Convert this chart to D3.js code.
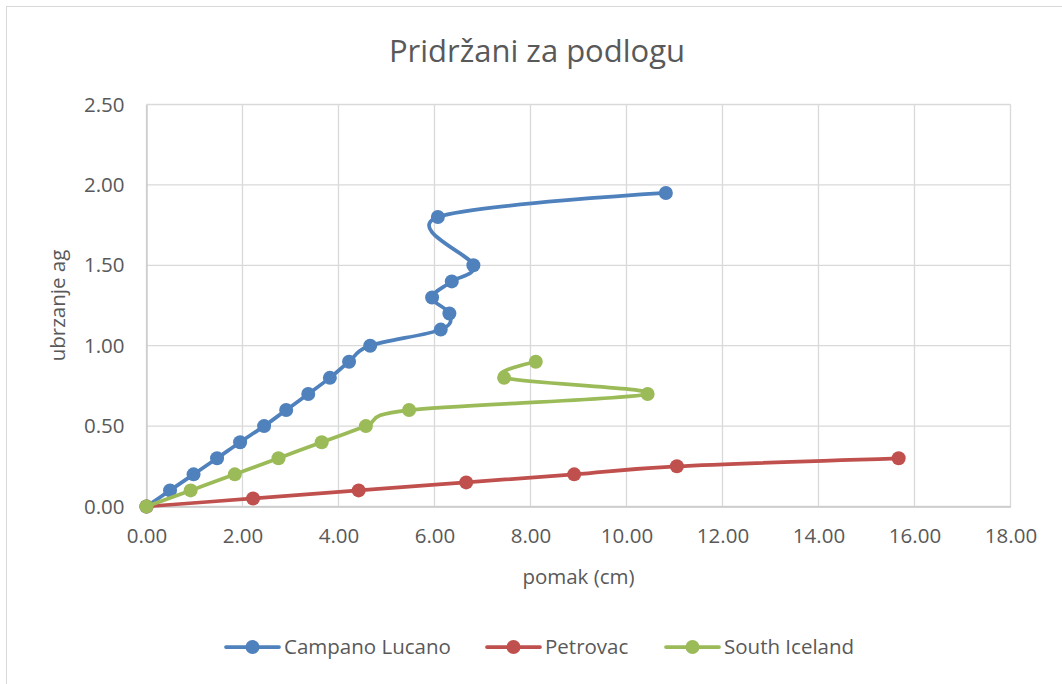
<!DOCTYPE html>
<html>
<head>
<meta charset="utf-8">
<script src="https://cdn.jsdelivr.net/npm/d3@7"></script>
<style>
  html, body { margin: 0; padding: 0; background: #fff; }
  svg { display: block; font-family: "Open Sans", "Noto Sans", sans-serif; }
</style>
</head>
<body>
<svg id="chart" width="1062" height="684"></svg>
<script>
// Displacement (cm) against ground acceleration (ag) for three records
const campanoX = [0, 0.49, 0.98, 1.47, 1.95, 2.45, 2.91, 3.37, 3.82, 4.22, 4.66, 6.13, 6.31, 5.95, 6.36, 6.81, 6.07, 10.82];
const campanoY = [0, 0.1, 0.2, 0.3, 0.4, 0.5, 0.6, 0.7, 0.8, 0.9, 1.0, 1.1, 1.2, 1.3, 1.4, 1.5, 1.8, 1.95];
const petrovacX = [0, 2.22, 4.42, 6.66, 8.91, 11.05, 15.67];
const petrovacY = [0, 0.05, 0.1, 0.15, 0.2, 0.25, 0.3];
const icelandX = [0, 0.92, 1.84, 2.75, 3.65, 4.57, 5.47, 10.44, 7.45, 8.11];
const icelandY = [0, 0.1, 0.2, 0.3, 0.4, 0.5, 0.6, 0.7, 0.8, 0.9];

const seriesNames = ["Campano Lucano", "Petrovac", "South Iceland"];
const seriesColors = ["#4F81BD", "#C0504D", "#9BBB59"];

const xTicks = [0, 2, 4, 6, 8, 10, 12, 14, 16, 18];
const yTicks = [0, 0.5, 1.0, 1.5, 2.0, 2.5];

const titleText = "Pridržani za podlogu";
const xTitle = "pomak (cm)";
const yTitle = "ubrzanje ag";

const series = [
  { name: seriesNames[0], color: seriesColors[0], pts: campanoX.map((x, i) => [x, campanoY[i]]) },
  { name: seriesNames[1], color: seriesColors[1], pts: petrovacX.map((x, i) => [x, petrovacY[i]]) },
  { name: seriesNames[2], color: seriesColors[2], pts: icelandX.map((x, i) => [x, icelandY[i]]) }
];

const svg = d3.select("#chart");
const textColor = "#595959";
const plot = { left: 146.5, right: 1010.5, top: 104.5, bottom: 506.5 };

const x = d3.scaleLinear().domain([0, 18]).range([plot.left, plot.right]);
const y = d3.scaleLinear().domain([0, 2.5]).range([plot.bottom, plot.top]);

// chart frame
svg.append("rect")
  .attr("x", 6.5).attr("y", 6.5)
  .attr("width", 1080).attr("height", 700)
  .attr("fill", "#fff").attr("stroke", "#d9d9d9").attr("stroke-width", 1);

// title
svg.append("text")
  .attr("x", 537).attr("y", 62)
  .attr("text-anchor", "middle")
  .attr("font-size", 31)
  .attr("fill", textColor)
  .text(titleText);

// grid
const grid = svg.append("g").attr("stroke", "#d9d9d9").attr("stroke-width", 1.3);
grid.selectAll(".vg").data(xTicks).join("line")
  .attr("x1", d => x(d)).attr("x2", d => x(d))
  .attr("y1", plot.top).attr("y2", plot.bottom);
grid.selectAll(".hg").data(yTicks).join("line")
  .attr("x1", plot.left).attr("x2", plot.right)
  .attr("y1", d => y(d)).attr("y2", d => y(d));

// axes
const fmt = d3.format(".2f");
const xAxis = svg.append("g")
  .attr("transform", `translate(0,${plot.bottom})`)
  .call(d3.axisBottom(x).tickValues(xTicks).tickFormat(fmt).tickSize(0).tickPadding(22));
const yAxis = svg.append("g")
  .attr("transform", `translate(${plot.left},0)`)
  .call(d3.axisLeft(y).tickValues(yTicks).tickFormat(fmt).tickSize(0).tickPadding(22));
[xAxis, yAxis].forEach(a => {
  a.select(".domain").attr("stroke", "#c8c8c8").attr("stroke-width", 1.3);
  a.selectAll("text")
    .attr("font-family", "'Open Sans', 'Noto Sans', sans-serif")
    .attr("font-size", 20.5)
    .attr("fill", textColor);
});
xAxis.selectAll("text").attr("dy", "0.71em");

// axis titles
svg.append("text")
  .attr("x", (plot.left + plot.right) / 2).attr("y", 584)
  .attr("text-anchor", "middle")
  .attr("font-size", 20.5).attr("fill", textColor)
  .text(xTitle);
svg.append("text")
  .attr("transform", `translate(65,${(plot.top + plot.bottom) / 2}) rotate(-90)`)
  .attr("text-anchor", "middle")
  .attr("font-size", 20.5).attr("fill", textColor)
  .text(yTitle);

// smoothed series lines with markers
const line = d3.line()
  .x(d => x(d[0])).y(d => y(d[1]))
  .curve(d3.curveCatmullRom.alpha(0));

series.forEach(s => {
  const g = svg.append("g");
  g.append("path")
    .attr("d", line(s.pts))
    .attr("fill", "none")
    .attr("stroke", s.color)
    .attr("stroke-width", 3.75)
    .attr("stroke-linejoin", "round")
    .attr("stroke-linecap", "round");
  g.selectAll("circle").data(s.pts).join("circle")
    .attr("cx", d => x(d[0])).attr("cy", d => y(d[1]))
    .attr("r", 7)
    .attr("fill", s.color);
});

// legend
const legendY = 647;
const legendStarts = [226, 487, 666];
series.forEach((s, i) => {
  const lx = legendStarts[i];
  const g = svg.append("g");
  g.append("line")
    .attr("x1", lx).attr("x2", lx + 53)
    .attr("y1", legendY).attr("y2", legendY)
    .attr("stroke", s.color).attr("stroke-width", 3.75)
    .attr("stroke-linecap", "round");
  g.append("circle")
    .attr("cx", lx + 26.5).attr("cy", legendY).attr("r", 7)
    .attr("fill", s.color);
  g.append("text")
    .attr("x", lx + 58).attr("y", legendY)
    .attr("dy", "0.35em")
    .attr("font-size", 20.5).attr("fill", textColor)
    .text(s.name);
});
</script>
</body>
</html>
